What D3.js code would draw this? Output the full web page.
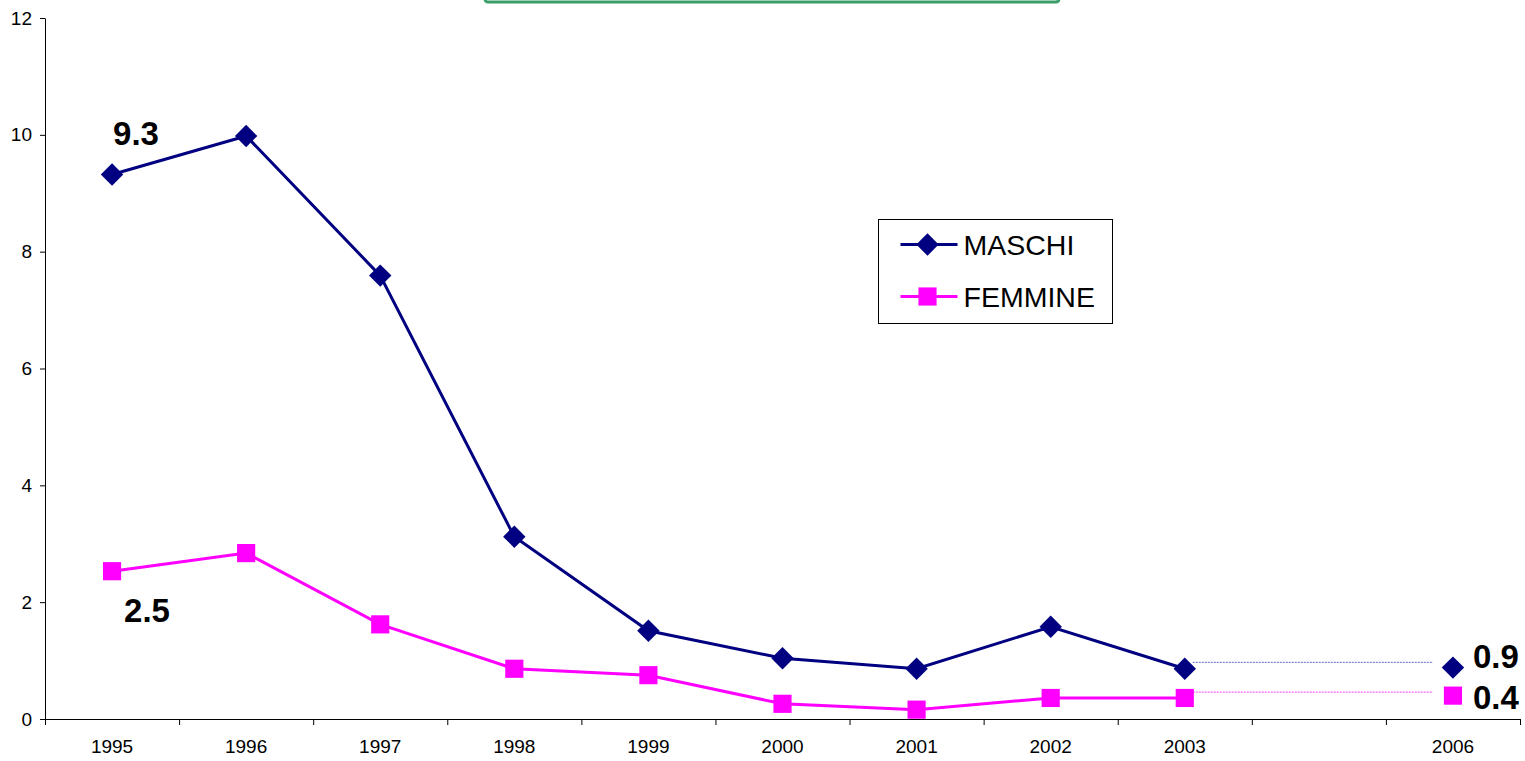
<!DOCTYPE html>
<html>
<head>
<meta charset="utf-8">
<script src="https://cdn.jsdelivr.net/npm/d3@7"></script>
<style>
  body { margin: 0; background: #fff; }
  svg { display: block; font-family: "Liberation Sans", Arial, sans-serif; }
</style>
</head>
<body>
<div id="chart"></div>
<script>
// Categories on the x axis (one empty slot between 2003 and 2006)
const years = ["1995", "1996", "1997", "1998", "1999", "2000", "2001", "2002", "2003", "", "2006"];

// Series values
const maschi = [9.32, 9.98, 7.59, 3.12, 1.51, 1.04, 0.86, 1.58, 0.86, null, 0.88];
const femmine = [2.53, 2.84, 1.62, 0.86, 0.75, 0.26, 0.16, 0.36, 0.36, null, 0.40];

// Thin links bridging 2003 to 2006
const maschiLink = 0.97;
const femmineLink = 0.46;

// Value labels shown on the chart
const labels = [
  { text: "9.3", year: "1995", value: 9.32, dx: 1, dy: -30, anchor: "start" },
  { text: "2.5", year: "1995", value: 2.53, dx: 12, dy: 51, anchor: "start" },
  { text: "0.9", year: "2006", value: 0.88, dx: 20, dy: 0, anchor: "start" },
  { text: "0.4", year: "2006", value: 0.40, dx: 20, dy: 13, anchor: "start" }
];

const yTicks = [0, 2, 4, 6, 8, 10, 12];

const width = 1525, height = 761;
const margin = { top: 18, right: 5, bottom: 42, left: 45 };
const innerW = width - margin.left - margin.right;
const innerH = height - margin.top - margin.bottom;

const svg = d3.select("#chart")
  .append("svg")
  .attr("width", width)
  .attr("height", height);

// Green title box, cut off at the top
svg.append("rect")
  .attr("x", 485).attr("y", -40)
  .attr("width", 574).attr("height", 42)
  .attr("rx", 3)
  .attr("fill", "#fff")
  .attr("stroke", "#3a9d6a")
  .attr("stroke-width", 3);

const g = svg.append("g")
  .attr("transform", `translate(${margin.left},${margin.top})`);

const x = d3.scaleBand()
  .domain(years.map((d, i) => i))
  .range([0, innerW]);

const y = d3.scaleLinear()
  .domain([0, 12])
  .range([innerH, 0]);

const cx = i => x(i) + x.bandwidth() / 2;

// Y axis
const yAxis = g.append("g")
  .call(d3.axisLeft(y).tickValues(yTicks).tickSize(5).tickPadding(8));
yAxis.select(".domain").attr("d", `M0.5,0.5V${innerH}`).attr("stroke", "#000");
yAxis.selectAll("text").attr("font-size", 19).attr("font-family", "Liberation Sans, Arial, sans-serif").attr("fill", "#000");
yAxis.selectAll("line").attr("stroke", "#000");

// X axis with ticks at band boundaries
const xAxis = g.append("g")
  .attr("transform", `translate(0,${innerH})`);
xAxis.append("line")
  .attr("x1", 0).attr("x2", innerW)
  .attr("y1", 0.5).attr("y2", 0.5)
  .attr("stroke", "#000");
xAxis.selectAll(".tk")
  .data(d3.range(years.length + 1))
  .enter().append("line")
  .attr("x1", i => (i < years.length ? x(i) : innerW) + 0.5)
  .attr("x2", i => (i < years.length ? x(i) : innerW) + 0.5)
  .attr("y1", 0).attr("y2", 6)
  .attr("stroke", "#000");
xAxis.selectAll(".lbl")
  .data(years)
  .enter().append("text")
  .attr("x", (d, i) => cx(i))
  .attr("y", 34)
  .attr("text-anchor", "middle")
  .attr("font-size", 19)
  .text(d => d);

// Thin bridging lines from 2003 to 2006
const i2003 = years.indexOf("2003"), i2006 = years.indexOf("2006");
[[maschiLink, "#6666cc"], [femmineLink, "#ff44ff"]].forEach(([v, c]) => {
  g.append("line")
    .attr("x1", cx(i2003) + 8).attr("x2", cx(i2006) - 20)
    .attr("y1", y(v)).attr("y2", y(v))
    .attr("stroke", c)
    .attr("stroke-width", 1)
    .attr("stroke-dasharray", "2,1");
});

// Lines
const line = d3.line()
  .defined(d => d != null)
  .x((d, i) => cx(i))
  .y(d => y(d));

const series = [
  { name: "MASCHI", values: maschi, color: "#000080", shape: d3.symbolDiamond2 },
  { name: "FEMMINE", values: femmine, color: "#ff00ff", shape: d3.symbolSquare }
];

series.forEach(s => {
  // only connect 1995..2003
  g.append("path")
    .datum(s.values.map((v, i) => i <= i2003 ? v : null))
    .attr("fill", "none")
    .attr("stroke", s.color)
    .attr("stroke-width", 3)
    .attr("d", line);
});

// Markers
series.forEach(s => {
  g.selectAll(null)
    .data(s.values.map((v, i) => ({ v, i })).filter(d => d.v != null))
    .enter().append("path")
    .attr("transform", d => `translate(${cx(d.i)},${y(d.v)})`)
    .attr("d", d3.symbol().type(s.shape).size(s.shape === d3.symbolSquare ? 330 : 320))
    .attr("fill", s.color);
});

// Value labels
g.selectAll(".vl")
  .data(labels)
  .enter().append("text")
  .attr("x", d => cx(years.indexOf(d.year)) + d.dx)
  .attr("y", d => y(d.value) + d.dy)
  .attr("text-anchor", d => d.anchor)
  .attr("font-size", 33)
  .attr("font-weight", "bold")
  .text(d => d.text);

// Legend
const lg = svg.append("g").attr("transform", "translate(878.5,219.5)");
lg.append("rect")
  .attr("width", 234).attr("height", 104)
  .attr("fill", "#fff")
  .attr("stroke", "#000")
  .attr("stroke-width", 1);
series.forEach((s, k) => {
  const ly = 25 + k * 52;
  lg.append("line")
    .attr("x1", 22).attr("x2", 79)
    .attr("y1", ly).attr("y2", ly)
    .attr("stroke", s.color).attr("stroke-width", 3);
  lg.append("path")
    .attr("transform", `translate(49,${ly})`)
    .attr("d", d3.symbol().type(s.shape).size(s.shape === d3.symbolSquare ? 330 : 320))
    .attr("fill", s.color);
  lg.append("text")
    .attr("x", 85).attr("y", ly + 10)
    .attr("font-size", 28.5)
    .text(s.name);
});
</script>
</body>
</html>
